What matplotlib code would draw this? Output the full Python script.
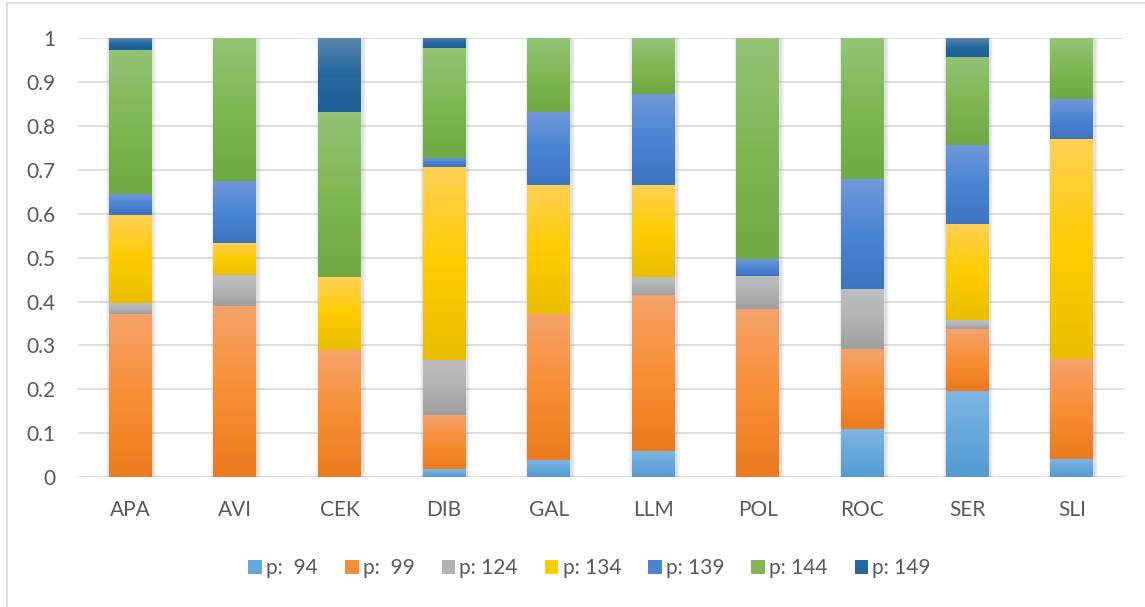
import numpy as np
import matplotlib
matplotlib.use('Agg')
import matplotlib.pyplot as plt
from matplotlib.colors import LinearSegmentedColormap
from matplotlib.patches import Patch, Rectangle

sites = ['APA', 'AVI', 'CEK', 'DIB', 'GAL', 'LLM', 'POL', 'ROC', 'SER', 'SLI']
p94 = [0.000, 0.000, 0.000, 0.018, 0.039, 0.059, 0.000, 0.109, 0.197, 0.042]
p99 = [0.372, 0.390, 0.290, 0.123, 0.333, 0.355, 0.382, 0.182, 0.141, 0.227]
p124 = [0.024, 0.070, 0.000, 0.126, 0.000, 0.041, 0.076, 0.138, 0.020, 0.000]
p134 = [0.201, 0.073, 0.166, 0.439, 0.293, 0.210, 0.000, 0.000, 0.219, 0.501]
p139 = [0.049, 0.141, 0.000, 0.021, 0.167, 0.208, 0.038, 0.249, 0.179, 0.090]
p144 = [0.327, 0.326, 0.376, 0.250, 0.168, 0.127, 0.504, 0.322, 0.201, 0.140]
p149 = [0.027, 0.000, 0.168, 0.023, 0.000, 0.000, 0.000, 0.000, 0.043, 0.000]

series = [p94, p99, p124, p134, p139, p144, p149]
labels = ['p:  94', 'p:  99', 'p: 124', 'p: 134', 'p: 139', 'p: 144', 'p: 149']
# top / middle / bottom colours of each gradient fill
grads = [
    ('#80b6e3', '#66a8dc', '#559ad2'),
    ('#f5a26b', '#f98f35', '#ec7a1e'),
    ('#bfbfbf', '#b3b3b3', '#9f9f9f'),
    ('#ffd055', '#ffcd00', '#eabf00'),
    ('#7099d8', '#4a84d4', '#3d74c2'),
    ('#93c477', '#7fb753', '#70aa43'),
    ('#5b84ad', '#22689f', '#1d5f96'),
]

plt.rcParams['font.family'] = ['Lato', 'DejaVu Sans']
txt = '#595959'

fig = plt.figure(figsize=(11.45, 6.07), dpi=100)
# chart area border, only left and top edges fall inside the image
fig.patches.append(Rectangle((0.006, -0.05), 1.1, 1.045, transform=fig.transFigure,
                             fill=False, ec='#d9d9d9', lw=1.2))
ax = fig.add_axes([0.068, 0.2137, 0.9137, 0.7237])

x = np.arange(len(sites))
width = 0.41

# soft shadow behind each stack
totals = np.sum(np.array(series), axis=0)
for k, a in [(0.07, 0.06), (0.05, 0.08), (0.03, 0.1)]:
    ax.bar(x + 0.012, totals + k * 0.05, width=width + k, bottom=-k * 0.05,
           color='#808080', alpha=a, lw=0, zorder=1)

bottom = np.zeros(len(sites))
grad = np.linspace(0, 1, 100).reshape(-1, 1)
for vals, cols in zip(series, grads):
    vals = np.array(vals)
    cmap = LinearSegmentedColormap.from_list('g', list(cols))
    bars = ax.bar(x, vals, width=width, bottom=bottom, color=cols[1], lw=0, zorder=2)
    for rect in bars:
        h = rect.get_height()
        if h <= 0:
            continue
        x0 = rect.get_x()
        y0 = rect.get_y()
        im = ax.imshow(grad, extent=[x0, x0 + rect.get_width(), y0, y0 + h],
                       cmap=cmap, aspect='auto', zorder=3, interpolation='bilinear')
        im.set_clip_path(rect)
    bottom += vals

ax.set_xlim(-0.5, len(sites) - 0.5)
ax.set_ylim(0, 1)
ax.set_yticks(np.arange(0, 1.01, 0.1))
ax.set_yticklabels(['0', '0.1', '0.2', '0.3', '0.4', '0.5', '0.6', '0.7', '0.8', '0.9', '1'])
ax.set_xticks(x)
ax.set_xticklabels(sites)
ax.tick_params(length=0, labelsize=15, colors=txt)
ax.tick_params(axis='x', pad=16)
ax.tick_params(axis='y', pad=16)
ax.grid(axis='y', color='#d9d9d9', lw=1.2, zorder=0)
ax.set_axisbelow(True)
for s in ax.spines.values():
    s.set_visible(False)
ax.axhline(0, color='#d9d9d9', lw=1.2, zorder=0)

handles = [Patch(facecolor=c[1], edgecolor='none') for c in grads]
fig.legend(handles, labels, loc='center', bbox_to_anchor=(0.515, 0.064), ncol=7,
           frameon=False, fontsize=15, labelcolor=txt, handlelength=0.65,
           handleheight=0.65, handletextpad=0.2, columnspacing=1.3)

fig.savefig('out.png', dpi=100)
